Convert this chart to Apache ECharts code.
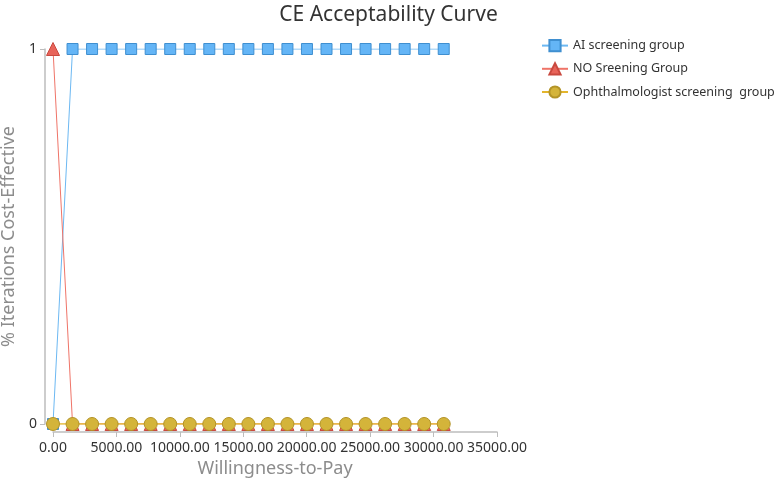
<!DOCTYPE html>
<html>
<head>
<meta charset="utf-8">
<script src="https://cdn.jsdelivr.net/npm/echarts@6/dist/echarts.min.js"></script>
<style>
  html, body { margin: 0; padding: 0; background: #fff; }
  #chart { width: 777px; height: 481px; }
</style>
</head>
<body>
<div id="chart"></div>
<script>
  // willingness-to-pay steps (x values)
  var wtp = [0, 1540, 3080, 4620, 6160, 7700, 9240, 10780, 12320, 13860, 15400,
    16940, 18480, 20020, 21560, 23100, 24640, 26180, 27720, 29260, 30800]
  var aiGroup = [0, 1, 1, 1, 1, 1, 1, 1, 1, 1, 1, 1, 1, 1, 1, 1, 1, 1, 1, 1, 1]
  var noScreening = [1, 0, 0, 0, 0, 0, 0, 0, 0, 0, 0, 0, 0, 0, 0, 0, 0, 0, 0, 0, 0]
  var ophthGroup = [0, 0, 0, 0, 0, 0, 0, 0, 0, 0, 0, 0, 0, 0, 0, 0, 0, 0, 0, 0, 0]
  var seriesNames = ['AI screening group', 'NO Sreening Group', 'Ophthalmologist screening  group']

  function pairs (ys) {
    return wtp.map(function (x, i) { return [x, ys[i]] })
  }

  var font = 'Noto Sans'
  var myChart = echarts.init(document.getElementById('chart'))
  var option = {
    backgroundColor: '#fff',
    animation: false,
    textStyle: { fontFamily: font },
    title: {
      text: 'CE Acceptability Curve',
      left: 'center',
      top: 0,
      textStyle: { fontFamily: font, fontSize: 21, fontWeight: 'normal', color: '#333' }
    },
    legend: {
      orient: 'vertical',
      left: 536,
      top: 34,
      itemWidth: 26,
      itemHeight: 14,
      itemGap: 10,
      textStyle: { fontFamily: font, fontSize: 12.5, color: '#333' },
      data: seriesNames
    },
    grid: {
      left: 53,
      right: 280,
      top: 49,
      bottom: 57,
      outerBoundsMode: 'none'
    },
    xAxis: {
      type: 'value',
      min: 0,
      max: 35000,
      interval: 5000,
      offset: 8,
      name: 'Willingness-to-Pay',
      nameLocation: 'middle',
      nameGap: 25,
      nameTextStyle: { fontFamily: font, fontSize: 18, color: '#8c8c8c' },
      axisLine: { onZero: false, lineStyle: { color: '#bdbdbd', width: 1.5 } },
      axisTick: { lineStyle: { color: '#bdbdbd' }, length: 5 },
      axisLabel: {
        color: '#333',
        fontSize: 14,
        margin: 9,
        formatter: function (v) { return v.toFixed(2) }
      },
      splitLine: { show: false }
    },
    yAxis: {
      type: 'value',
      min: 0,
      max: 1,
      interval: 1,
      offset: 8,
      name: '% Iterations Cost-Effective',
      nameLocation: 'middle',
      nameGap: 22,
      nameTextStyle: { fontFamily: font, fontSize: 18, color: '#8c8c8c' },
      axisLine: { show: true, onZero: false, lineStyle: { color: '#bdbdbd', width: 1.5 } },
      axisTick: { show: true, lineStyle: { color: '#bdbdbd' }, length: 5 },
      axisLabel: { color: '#333', fontSize: 14, margin: 8 },
      splitLine: { show: false }
    },
    series: [
      {
        name: seriesNames[0],
        type: 'line',
        data: pairs(aiGroup),
        symbol: 'rect',
        symbolSize: 11,
        lineStyle: { color: '#6cb8f2', width: 1 },
        itemStyle: { color: '#64b5f6', borderColor: '#3f8fd0', borderWidth: 1 }
      },
      {
        name: seriesNames[1],
        type: 'line',
        data: pairs(noScreening),
        symbol: 'triangle',
        symbolSize: 13,
        lineStyle: { color: '#ef7468', width: 1 },
        itemStyle: { color: '#e8645a', borderColor: '#c9493f', borderWidth: 1 }
      },
      {
        name: seriesNames[2],
        type: 'line',
        data: pairs(ophthGroup),
        symbol: 'circle',
        symbolSize: 13,
        lineStyle: { color: '#e3b52c', width: 1.5 },
        itemStyle: { color: '#d4b43a', borderColor: '#b39428', borderWidth: 1 }
      }
    ]
  }
  myChart.setOption(option)
</script>
</body>
</html>
